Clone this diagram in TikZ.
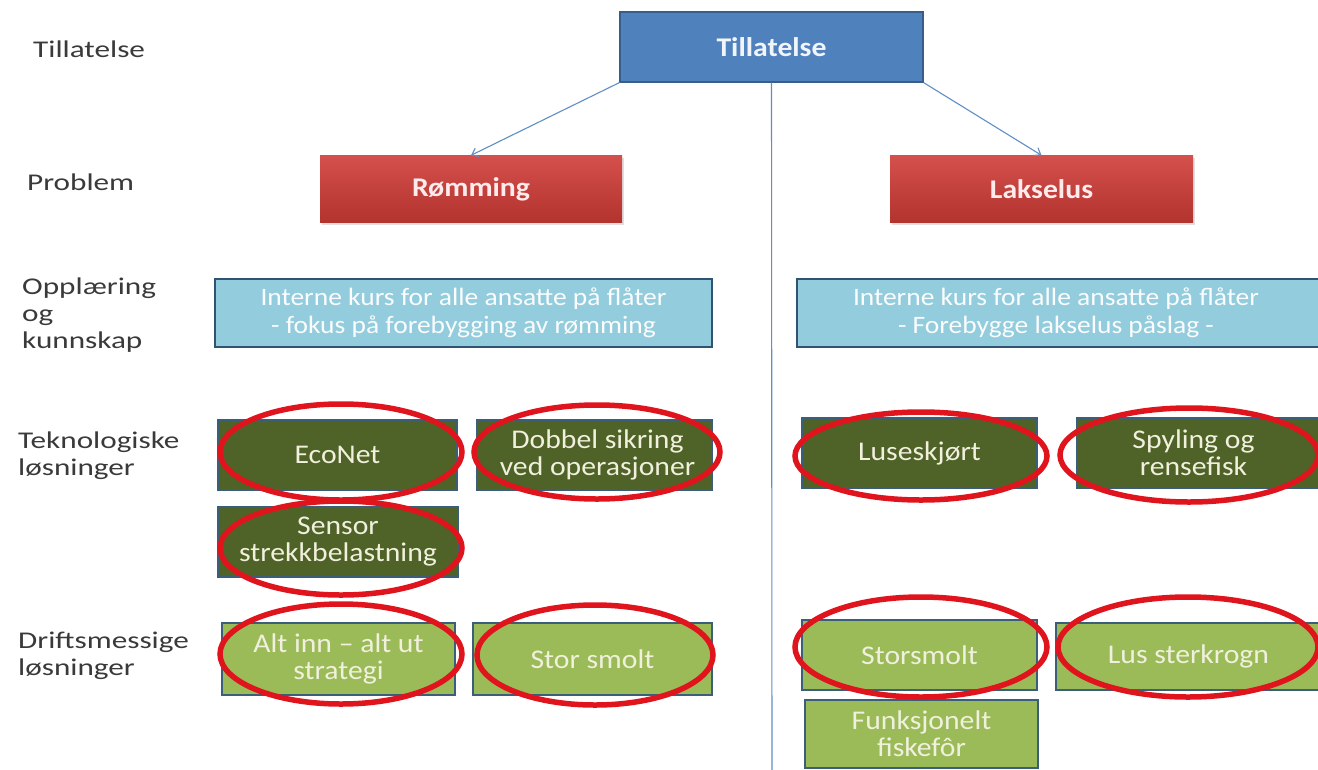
\documentclass[tikz,border=0pt]{standalone}
\usepackage{fontspec}
\setmainfont{Carlito}
\newfontfamily\labfont[FakeStretch=1.3]{Carlito}
\newfontfamily\boxfont[FakeStretch=1.1]{Carlito}
\usetikzlibrary{shapes.geometric,arrows.meta,shadows}
\definecolor{topblue}{HTML}{4F81BD}
\definecolor{topborder}{HTML}{385D8A}
\definecolor{redtop}{HTML}{D4504C}
\definecolor{redbot}{HTML}{B3332F}
\definecolor{lblue}{HTML}{93CDDD}
\definecolor{navy}{HTML}{2F5370}
\definecolor{dgreen}{HTML}{4F6228}
\definecolor{lgreen}{HTML}{9BBB59}
\definecolor{gborder}{HTML}{3B5F7A}
\definecolor{ringred}{HTML}{E0141C}
\definecolor{labgray}{HTML}{3A3A3A}
\definecolor{cream}{HTML}{F0F0DC}
\tikzset{
  x=1pt, y=-1pt,
  lab/.style={anchor=base west, align=left, text=labgray, font=\labfont\fontsize{24}{27}\selectfont, inner sep=0pt},
  topbox/.style={draw=topborder, line width=1.2pt, fill=topblue, text=white!92!topblue, font=\boxfont\bfseries\fontsize{27}{30}\selectfont, inner sep=0pt},
  probbox/.style={top color=redtop, bottom color=redbot, draw=none, text=white!92!red, font=\boxfont\bfseries\fontsize{27}{30}\selectfont, inner sep=0pt, drop shadow={opacity=0.25, shadow xshift=2pt, shadow yshift=-2pt}},
  bluebox/.style={draw=navy, line width=2pt, fill=lblue, text=white!95!lblue, align=center, font=\boxfont\fontsize{25}{28}\selectfont, inner sep=0pt},
  dbox/.style={draw=gborder, line width=2pt, fill=dgreen, text=cream, align=center, font=\boxfont\fontsize{27}{27}\selectfont, inner sep=0pt},
  lbox/.style={draw=gborder, line width=2pt, fill=lgreen, text=cream, align=center, font=\boxfont\fontsize{27}{27}\selectfont, inner sep=0pt},
  ring/.style={ellipse, draw=ringred, line width=5.5pt, inner sep=0pt, fill=none},
  conn/.style={draw=topblue!90!white, line width=1.1pt},
  arr/.style={conn, -{Straight Barb[length=6pt,width=9pt]}}
}
\begin{document}
\begin{tikzpicture}
\clip (0,0) rectangle (1318,769);
\fill[white] (0,0) rectangle (1318,769);

% left labels (anchor = baseline of last line)
\node[lab] (l1) at (33,57) {Tillatelse};
\node[lab] (l2) at (27,190) {Problem};
\node[lab] (l3) at (22,348) {Opplæring\\og\\kunnskap};
\node[lab] (l4) at (18,475) {Teknologiske\\løsninger};
\node[lab] (l5) at (18,675) {Driftsmessige\\løsninger};

% vertical divider
\coordinate (vbot) at (772,775);

% top box
\node[topbox, minimum width=303pt, minimum height=70pt] (top) at (771.5,47) {Tillatelse};
\draw[conn] (top.south) -- (vbot);

% problems
\node[probbox, minimum width=302pt, minimum height=67pt] (rom) at (471,189) {Rømming};
\node[probbox, minimum width=303pt, minimum height=67pt] (lak) at (1041.5,189) {Lakselus};
\draw[arr] (top.south west) -- (rom.north);
\draw[arr] (top.south east) -- (lak.north);

% training
\node[bluebox, minimum width=497pt, minimum height=68pt] (bl) at (463.5,313) {Interne kurs for alle ansatte på flåter\\- fokus på forebygging av rømming};
\node[bluebox, minimum width=530pt, minimum height=68pt] (br) at (1062,313) {\hspace*{-12pt}Interne kurs for alle ansatte på flåter\\\hspace*{-12pt}- Forebygge lakselus påslag -};

% technological
\node[dbox, minimum width=239pt, minimum height=70pt] (eco) at (337.5,455) {EcoNet};
\node[dbox, minimum width=235pt, minimum height=70pt] (dob) at (594.5,455) {\hspace*{6pt}Dobbel sikring\\\hspace*{6pt}ved operasjoner};
\node[dbox, minimum width=240pt, minimum height=70pt] (sen) at (338,542) {Sensor\\strekkbelastning};
\node[dbox, minimum width=235pt, minimum height=70pt] (lus1) at (919.5,453) {Luseskjørt};
\node[dbox, minimum width=255pt, minimum height=70pt] (spy) at (1204.5,453) {\hspace*{-22pt}Spyling og\\\hspace*{-22pt}rensefisk};

% operational
\node[lbox, minimum width=233pt, minimum height=72pt] (alt) at (338.5,659) {Alt inn – alt ut\\strategi};
\node[lbox, minimum width=239pt, minimum height=72pt] (sts) at (592.5,659) {Stor smolt};
\node[lbox, minimum width=235pt, minimum height=70pt] (sto) at (919.5,655) {Storsmolt};
\node[lbox, minimum width=270pt, minimum height=67pt] (lst) at (1191,656.5) {\hspace*{-5pt}Lus sterkrogn};
\node[lbox, minimum width=233pt, minimum height=68pt] (fun) at (921.5,734) {Funksjonelt\\fiskefôr};

% red rings
\node[ring, minimum width=242pt, minimum height=96pt] (r1) at (341,452) {};
\node[ring, minimum width=246pt, minimum height=94pt] (r2) at (597,452) {};
\node[ring, minimum width=242pt, minimum height=94pt] (r3) at (341,548) {};
\node[ring, minimum width=252pt, minimum height=88pt] (r4) at (921,456) {};
\node[ring, minimum width=258pt, minimum height=94pt] (r5) at (1189,455) {};
\node[ring, minimum width=242pt, minimum height=100pt] (r6) at (341,654) {};
\node[ring, minimum width=236pt, minimum height=100pt] (r7) at (595,655) {};
\node[ring, minimum width=252pt, minimum height=100pt] (r8) at (921,647) {};
\node[ring, minimum width=260pt, minimum height=100pt] (r9) at (1188,647) {};
\end{tikzpicture}
\end{document}
